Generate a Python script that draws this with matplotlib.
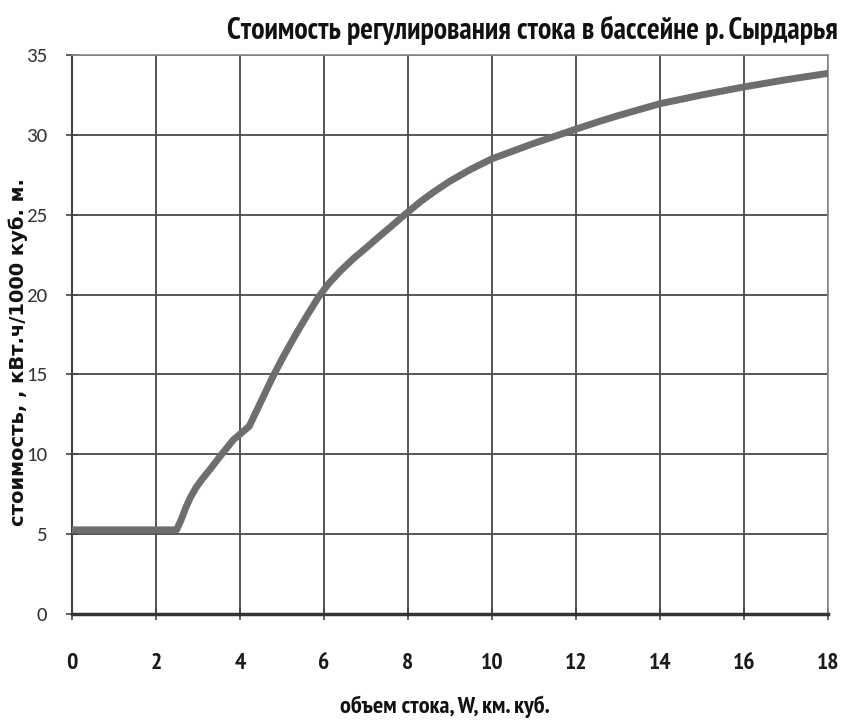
import matplotlib
matplotlib.use("Agg")
import matplotlib.pyplot as plt
from matplotlib import font_manager

# объем стока, км. куб.
volume = [0, 2.49, 2.6, 2.7, 2.82, 2.95, 3.1, 3.3, 3.52, 3.84, 4.22, 4.5, 4.79,
          5.03, 5.35, 5.6, 5.86, 6.1, 6.38, 6.7, 7.02, 7.3, 7.57, 7.9, 8.29, 8.6,
          9.0, 9.5, 10.0, 10.98, 11.99, 12.57, 13, 14, 15, 16, 17, 18]
# стоимость, кВт.ч/1000 куб. м.
cost = [5.27, 5.27, 5.9, 6.6, 7.3, 7.9, 8.45, 9.1, 9.85, 10.9, 11.75, 13.3, 14.9,
        16.1, 17.6, 18.7, 19.8, 20.65, 21.45, 22.25, 22.96, 23.6, 24.2, 24.95, 25.8, 26.4,
        27.1, 27.85, 28.5, 29.45, 30.35, 30.85, 31.2, 31.95, 32.5, 33.0, 33.45, 33.85]

x_ticks = list(range(0, 19, 2))
y_ticks = list(range(0, 36, 5))

title = "Стоимость регулирования стока в бассейне р. Сырдарья"
x_label = "объем стока, W, км. куб."
y_label = "стоимость, , кВт.ч/1000 куб. м."

available = {f.name for f in font_manager.fontManager.ttflist}


def pick(*names):
    return [n for n in names if n in available] + ["DejaVu Sans"]


narrow = pick("PT Sans Narrow", "Roboto Condensed", "Fira Sans Condensed")
tick_font = pick("Carlito", "PT Sans", "Open Sans")

fig = plt.figure(figsize=(8.43, 7.2), dpi=100)
ax = fig.add_axes([0.0854, 0.1472, 0.8966, 0.7764])

ax.plot(volume, cost, color="#6e6e6e", linewidth=5, solid_capstyle="butt",
        solid_joinstyle="round", zorder=3)

ax.set_xlim(0, 18)
ax.set_ylim(0, 35)
ax.set_xticks(x_ticks)
ax.set_yticks(y_ticks)
ax.grid(True, color="#4a4a4a", linewidth=1.3)
ax.set_axisbelow(True)

for side in ["top", "right"]:
    ax.spines[side].set_color("#8a8a8a")
    ax.spines[side].set_linewidth(1.2)
ax.spines["left"].set_color("#444444")
ax.spines["left"].set_linewidth(1.5)
ax.spines["bottom"].set_color("#333333")
ax.spines["bottom"].set_linewidth(2.5)

ax.tick_params(axis="x", direction="inout", length=8, width=1.2, color="#444444",
               pad=24, labelsize=17, labelcolor="#1a1a1a")
ax.tick_params(axis="y", direction="inout", length=8, width=1.2, color="#444444",
               pad=14, labelsize=15, labelcolor="#333333")
for lbl in ax.get_xticklabels():
    lbl.set_family(narrow)
    lbl.set_fontweight("bold")
for lbl in ax.get_yticklabels():
    lbl.set_family(tick_font)

fig.text(838 / 843, 1 - 39 / 720, title, ha="right", va="baseline",
         fontsize=21.5, fontweight="bold", family=narrow, color="#111111")
fig.text(445 / 843, 1 - 707 / 720, x_label, ha="center", va="center",
         fontsize=17.5, fontweight="bold", family=narrow, color="#111111")
fig.text(18 / 843, 1 - 352 / 720, y_label, ha="center", va="center", rotation=90,
         fontsize=14, fontweight="bold", family=["DejaVu Sans"], color="#111111")

fig.savefig("out.png", dpi=100, facecolor="white")
